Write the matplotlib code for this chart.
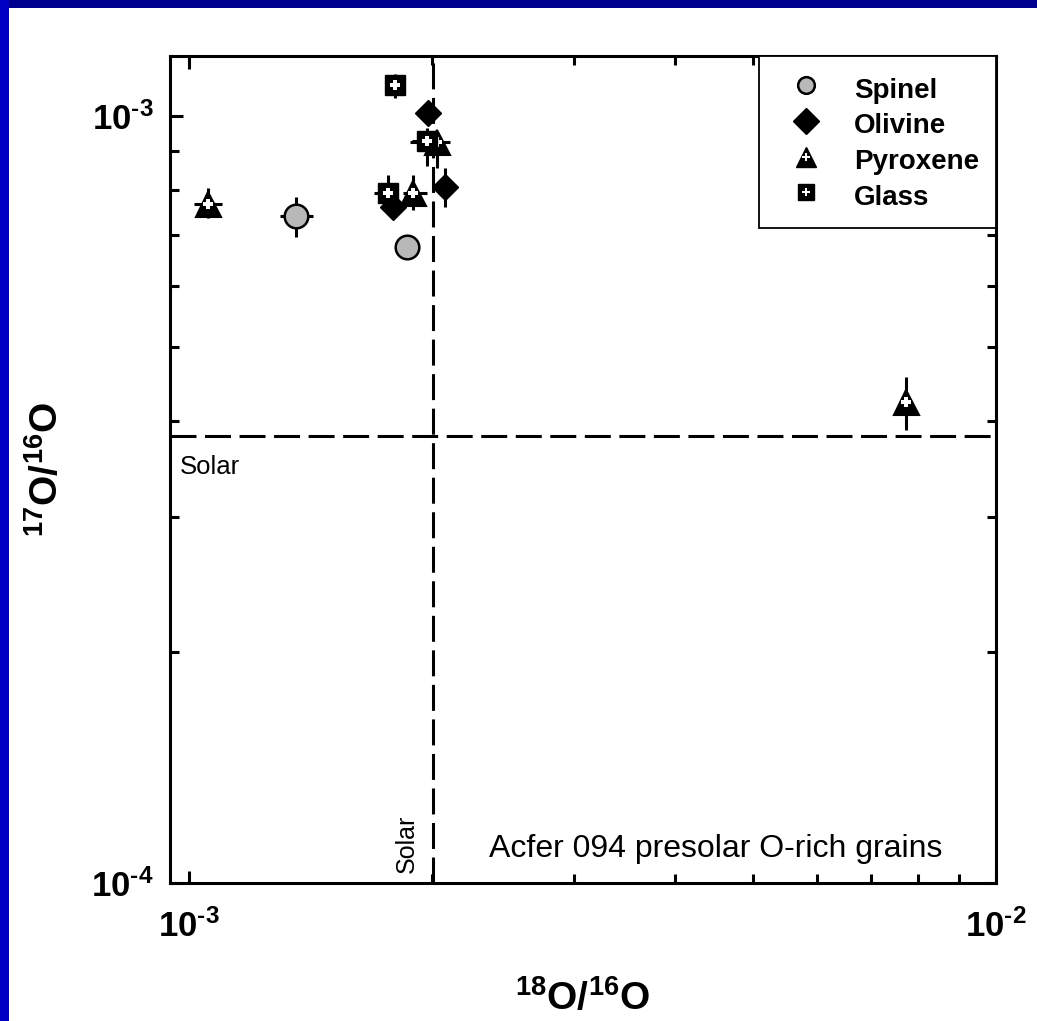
import matplotlib
matplotlib.use("Agg")
import matplotlib.pyplot as plt
import matplotlib.transforms as mtransforms
from matplotlib.lines import Line2D
from matplotlib.patches import Rectangle
from matplotlib.ticker import FuncFormatter, LogLocator, NullFormatter
import numpy as np

plt.rcParams['font.family'] = ['Liberation Sans', 'DejaVu Sans']
plt.rcParams['mathtext.fontset'] = 'custom'
plt.rcParams['mathtext.rm'] = 'Liberation Sans:bold'
plt.rcParams['mathtext.it'] = 'Liberation Sans:bold'
plt.rcParams['mathtext.bf'] = 'Liberation Sans:bold'

# solar reference ratios
solar_18 = 2.005e-3
solar_17 = 3.82e-4

# grain measurements: 18O/16O (x) and 17O/16O (y), with 1-sigma ranges
spinel_x = [1.355e-3, 1.864e-3]
spinel_x_lo = [1.297e-3, 1.864e-3]
spinel_x_hi = [1.425e-3, 1.864e-3]
spinel_y = [7.41e-4, 6.75e-4]
spinel_y_lo = [6.95e-4, 6.75e-4]
spinel_y_hi = [7.84e-4, 6.75e-4]

olivine_x = [1.980e-3, 1.791e-3, 2.078e-3]
olivine_x_lo = [1.980e-3, 1.791e-3, 2.078e-3]
olivine_x_hi = [1.980e-3, 1.791e-3, 2.078e-3]
olivine_y = [1.009e-3, 7.61e-4, 8.08e-4]
olivine_y_lo = [1.009e-3, 7.61e-4, 7.61e-4]
olivine_y_hi = [1.009e-3, 7.61e-4, 8.55e-4]

pyroxene_x = [1.056e-3, 1.896e-3, 2.031e-3, 7.73e-3]
pyroxene_x_lo = [1.014e-3, 1.843e-3, 1.880e-3, 7.73e-3]
pyroxene_x_hi = [1.099e-3, 1.974e-3, 2.108e-3, 7.73e-3]
pyroxene_y = [7.68e-4, 7.94e-4, 9.25e-4, 4.24e-4]
pyroxene_y_lo = [7.36e-4, 7.54e-4, 8.55e-4, 3.90e-4]
pyroxene_y_hi = [8.06e-4, 8.38e-4, 9.53e-4, 4.57e-4]

glass_x = [1.801e-3, 1.974e-3, 1.766e-3]
glass_x_lo = [1.801e-3, 1.891e-3, 1.696e-3]
glass_x_hi = [1.801e-3, 2.048e-3, 1.816e-3]
glass_y = [1.098e-3, 9.28e-4, 7.94e-4]
glass_y_lo = [1.056e-3, 8.61e-4, 7.61e-4]
glass_y_hi = [1.134e-3, 9.65e-4, 8.38e-4]


def err(v, lo, hi):
    v, lo, hi = np.array(v), np.array(lo), np.array(hi)
    return np.vstack([v - lo, hi - v])


fig = plt.figure(figsize=(10.37, 10.21), dpi=100, facecolor='#00008e')
fig.patches.append(Rectangle((0, 0), 9 / 1037, 1, transform=fig.transFigure,
                             facecolor='#0000c4', edgecolor='none', zorder=-2))
fig.patches.append(Rectangle((9 / 1037, 0), 1, 1013 / 1021, transform=fig.transFigure,
                             facecolor='white', edgecolor='none', zorder=-1))

ax = fig.add_axes([170 / 1037, 1 - 883 / 1021, 826 / 1037, 827 / 1021])
ax.set_xscale('log')
ax.set_yscale('log')
ax.set_xlim(10 ** -3.0236, 1e-2)
ax.set_ylim(1e-4, 10 ** -2.922)

dash = (0, (8.5, 2.8))
ax.axvline(solar_18, color='black', lw=2.2, ls=dash, zorder=1)
ax.axhline(solar_17, color='black', lw=2.2, ls=dash, zorder=1)

groups = [
    (spinel_x, spinel_x_lo, spinel_x_hi, spinel_y, spinel_y_lo, spinel_y_hi),
    (olivine_x, olivine_x_lo, olivine_x_hi, olivine_y, olivine_y_lo, olivine_y_hi),
    (pyroxene_x, pyroxene_x_lo, pyroxene_x_hi, pyroxene_y, pyroxene_y_lo, pyroxene_y_hi),
    (glass_x, glass_x_lo, glass_x_hi, glass_y, glass_y_lo, glass_y_hi),
]
for gx, gxl, gxh, gy, gyl, gyh in groups:
    ax.errorbar(gx, gy, xerr=err(gx, gxl, gxh), yerr=err(gy, gyl, gyh),
                fmt='none', ecolor='black', elinewidth=2.2, capsize=0, zorder=2)

ax.plot(spinel_x, spinel_y, 'o', ms=17, mfc='#b8b8b8', mec='black', mew=1.8, zorder=3)
ax.plot(olivine_x, olivine_y, 'D', ms=13, mfc='black', mec='black', mew=1, zorder=4)
ax.plot(pyroxene_x, pyroxene_y, '^', ms=18, mfc='black', mec='black', mew=1.5, zorder=5)
ax.plot(pyroxene_x, pyroxene_y, 'P', ms=7, mfc='white', mew=0, zorder=5)
ax.plot(glass_x, glass_y, 's', ms=14, mfc='black', mec='black', mew=1, zorder=6)
ax.plot(glass_x, glass_y, 'P', ms=7, mfc='white', mew=0, zorder=6)

# axes, ticks
for sp in ax.spines.values():
    sp.set_linewidth(2.2)
ax.xaxis.set_major_locator(LogLocator(base=10))
ax.yaxis.set_major_locator(LogLocator(base=10))
ax.xaxis.set_minor_locator(LogLocator(base=10, subs=np.arange(2, 10)))
ax.yaxis.set_minor_locator(LogLocator(base=10, subs=np.arange(2, 10)))
fmt = FuncFormatter(lambda v, p: r'$10^{\text{-%d}}$' % abs(round(np.log10(v))))
ax.xaxis.set_major_formatter(fmt)
ax.yaxis.set_major_formatter(fmt)
ax.xaxis.set_minor_formatter(NullFormatter())
ax.yaxis.set_minor_formatter(NullFormatter())
ax.tick_params(which='both', direction='in', top=True, right=True, width=2.2)
ax.tick_params(which='major', length=9, labelsize=25)
ax.tick_params(which='minor', length=6.5)
ax.tick_params(axis='x', which='major', pad=19)
ax.tick_params(axis='y', which='major', pad=12)

ax.set_xlabel(r'$^{18}$O/$^{16}$O', fontsize=28, fontweight='bold')
ax.set_ylabel(r'$^{17}$O/$^{16}$O', fontsize=28, fontweight='bold')
ax.xaxis.set_label_coords(0.5, -0.116)
ax.yaxis.set_label_coords(-0.126, 0.5)

# reference line labels
trans_h = mtransforms.blended_transform_factory(ax.transAxes, ax.transData)
ax.annotate('Solar', xy=(0.012, solar_17), xycoords=trans_h, xytext=(0, -13),
            textcoords='offset points', ha='left', va='top', fontsize=18.5)
trans_v = mtransforms.blended_transform_factory(ax.transData, ax.transAxes)
ax.annotate('Solar', xy=(solar_18, 0.012), xycoords=trans_v, xytext=(-10, 0),
            textcoords='offset points', ha='right', va='bottom', rotation=90, fontsize=18)
ax.text(0.386, 0.031, 'Acfer 094 presolar O-rich grains', transform=ax.transAxes,
        ha='left', va='baseline', fontsize=23)

handles = [
    Line2D([], [], ls='none', marker='o', ms=12, mfc='#b8b8b8', mec='black', mew=1.8),
    Line2D([], [], ls='none', marker='D', ms=13, mfc='black', mec='black'),
    (Line2D([], [], ls='none', marker='^', ms=14, mfc='black', mec='black'),
     Line2D([], [], ls='none', marker='P', ms=5.5, mfc='white', mew=0)),
    (Line2D([], [], ls='none', marker='s', ms=12, mfc='black', mec='black'),
     Line2D([], [], ls='none', marker='P', ms=5.5, mfc='white', mew=0)),
]
leg = ax.legend(handles, ['Spinel', 'Olivine', 'Pyroxene', 'Glass'],
                loc='upper right', bbox_to_anchor=(1, 1), borderaxespad=0,
                prop={'size': 20, 'weight': 'bold'}, fancybox=False,
                edgecolor='black', framealpha=1, borderpad=0.6,
                labelspacing=0.15, handlelength=2.2, handleheight=1.37,
                handletextpad=0.62)
leg.get_frame().set_linewidth(1.3)
leg.set_zorder(10)

fig.savefig('out.png', dpi=100, facecolor=fig.get_facecolor())
